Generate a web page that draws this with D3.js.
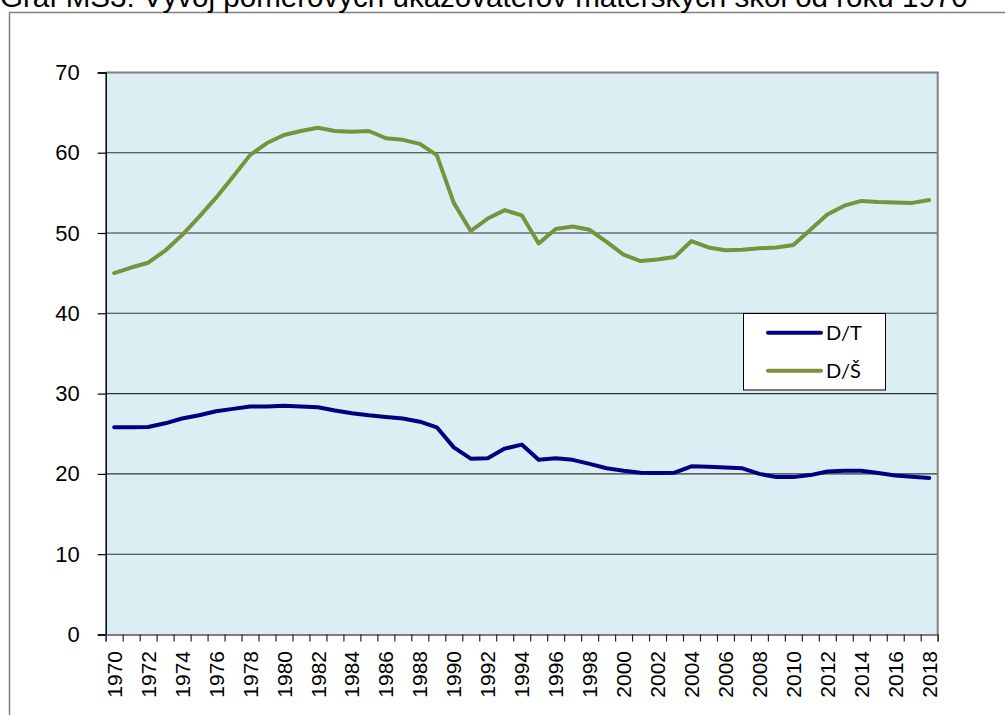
<!DOCTYPE html>
<html>
<head>
<meta charset="utf-8">
<script src="https://cdn.jsdelivr.net/npm/d3@7"></script>
<style>
  html, body { margin: 0; padding: 0; background: #fff; }
  svg { display: block; }
</style>
</head>
<body>
<svg id="chart" width="1005" height="715"></svg>
<script>
const titleText = "Graf MŠ3: Vývoj pomerových ukazovateľov materských škôl od roku 1970";
const years = d3.range(1970, 2019);
const seriesNames = ["D/T", "D/Š"];
const dT = [25.8, 25.8, 25.85, 26.3, 26.9, 27.3, 27.8, 28.1, 28.4, 28.4,
            28.5, 28.4, 28.3, 27.9, 27.55, 27.3, 27.1, 26.9, 26.5, 25.8,
            23.3, 21.9, 21.95, 23.15, 23.65, 21.75, 21.95, 21.75, 21.25, 20.7,
            20.4, 20.15, 20.1, 20.15, 20.95, 20.9, 20.8, 20.7, 20.0, 19.6,
            19.6, 19.85, 20.3, 20.4, 20.4, 20.1, 19.8, 19.65, 19.5];
const dS = [45.0, 45.7, 46.3, 47.8, 49.75, 52.0, 54.4, 57.0, 59.7, 61.2,
            62.2, 62.7, 63.1, 62.7, 62.6, 62.7, 61.8, 61.6, 61.1, 59.7,
            53.75, 50.25, 51.8, 52.85, 52.2, 48.7, 50.5, 50.8, 50.4, 48.9,
            47.3, 46.5, 46.7, 47.0, 49.0, 48.2, 47.85, 47.9, 48.1, 48.2,
            48.5, 50.4, 52.3, 53.4, 54.0, 53.85, 53.8, 53.75, 54.1];
const yTicks = [0, 10, 20, 30, 40, 50, 60, 70];
const xTickLabels = years.filter(v => (v - 1970) % 2 === 0);
const colors = ["#000080", "#77933C"];

(function () {
const svg = d3.select("#chart");

// outer chart border
svg.append("rect")
  .attr("x", 9.5).attr("y", 12.5)
  .attr("width", 1200).attr("height", 900)
  .attr("fill", "#fff").attr("stroke", "#808080").attr("stroke-width", 1.5);

// title (clipped at top, as in the reference)
const title = svg.append("text")
  .attr("x", 0).attr("y", 7)
  .attr("font-family", "Liberation Sans, Arial, sans-serif")
  .attr("font-size", 21)
  .attr("fill", "#000")
  .text(titleText);
const w = title.node().getComputedTextLength();
title.attr("font-size", 21 * 968 / w);

const pL = 105.7, pR = 937.7, pT = 72.4, pB = 634.5;

const x = d3.scaleBand().domain(years).range([pL, pR]).padding(0);
const xb = d3.scaleLinear().domain([0, years.length]).range([pL, pR]);
const y = d3.scaleLinear().domain([0, 70]).range([pB, pT]);

// plot background
svg.append("rect")
  .attr("x", pL).attr("y", pT)
  .attr("width", pR - pL).attr("height", pB - pT)
  .attr("fill", "#DBEEF4");

// gridlines
svg.append("g").selectAll("line")
  .data(yTicks.filter(d => d > 0 && d < 70))
  .join("line")
  .attr("x1", pL).attr("x2", pR)
  .attr("y1", d => y(d)).attr("y2", d => y(d))
  .attr("stroke", "#333").attr("stroke-width", 1.1);

// plot border (top/right gray)
svg.append("line").attr("x1", pL).attr("x2", pR + 1).attr("y1", pT).attr("y2", pT)
  .attr("stroke", "#808080").attr("stroke-width", 2);
svg.append("line").attr("x1", pR).attr("x2", pR).attr("y1", pT).attr("y2", pB)
  .attr("stroke", "#808080").attr("stroke-width", 2);

// y axis
const yAxis = svg.append("g")
  .attr("transform", `translate(${pL},0)`)
  .call(d3.axisLeft(y).tickValues(yTicks).tickSize(8).tickPadding(18).tickFormat(d3.format("d")));
yAxis.select(".domain").attr("stroke", "#000").attr("stroke-width", 1.5);
yAxis.selectAll(".tick line").attr("stroke", "#000").attr("stroke-width", 1.2);
yAxis.selectAll("text")
  .attr("font-family", "Liberation Sans, Arial, sans-serif")
  .attr("font-size", 22).attr("fill", "#000");

// x axis baseline + ticks at category boundaries
const xAxis = svg.append("g")
  .attr("transform", `translate(0,${pB})`)
  .call(d3.axisBottom(xb).tickValues(d3.range(0, years.length + 1)).tickSize(7).tickFormat(""));
xAxis.select(".domain").attr("stroke", "#555").attr("stroke-width", 1.5);
xAxis.selectAll(".tick line").attr("stroke", "#222").attr("stroke-width", 1.2);

// x labels (rotated)
svg.append("g").selectAll("text")
  .data(xTickLabels)
  .join("text")
  .attr("transform", d => `translate(${x(d) + x.bandwidth() / 2},651) rotate(-90)`)
  .attr("text-anchor", "end")
  .attr("dy", "0.36em")
  .attr("font-family", "Liberation Sans, Arial, sans-serif")
  .attr("font-size", 21)
  .attr("fill", "#000")
  .text(d => d);

// lines
const lineGen = d3.line()
  .x((d, i) => x(years[i]) + x.bandwidth() / 2)
  .y(d => y(d));
[dT, dS].forEach((s, k) => {
  svg.append("path")
    .datum(s)
    .attr("d", lineGen)
    .attr("fill", "none")
    .attr("stroke", colors[k])
    .attr("stroke-width", 4)
    .attr("stroke-linejoin", "round")
    .attr("stroke-linecap", "round");
});

// legend
const lg = svg.append("g");
lg.append("rect")
  .attr("x", 743.5).attr("y", 313.5).attr("width", 142).attr("height", 76.5)
  .attr("fill", "#fff").attr("stroke", "#000").attr("stroke-width", 1);
seriesNames.forEach((n, k) => {
  const ly = 332.7 + k * 38;
  lg.append("line")
    .attr("x1", 768).attr("x2", 821).attr("y1", ly).attr("y2", ly)
    .attr("stroke", colors[k]).attr("stroke-width", 4).attr("stroke-linecap", "round");
  lg.append("text")
    .attr("x", 826).attr("y", ly).attr("dy", "0.36em")
    .attr("font-family", "Lato, Carlito, sans-serif")
    .attr("font-size", 20).attr("fill", "#000")
    .text(n);
});
})();
</script>
</body>
</html>
